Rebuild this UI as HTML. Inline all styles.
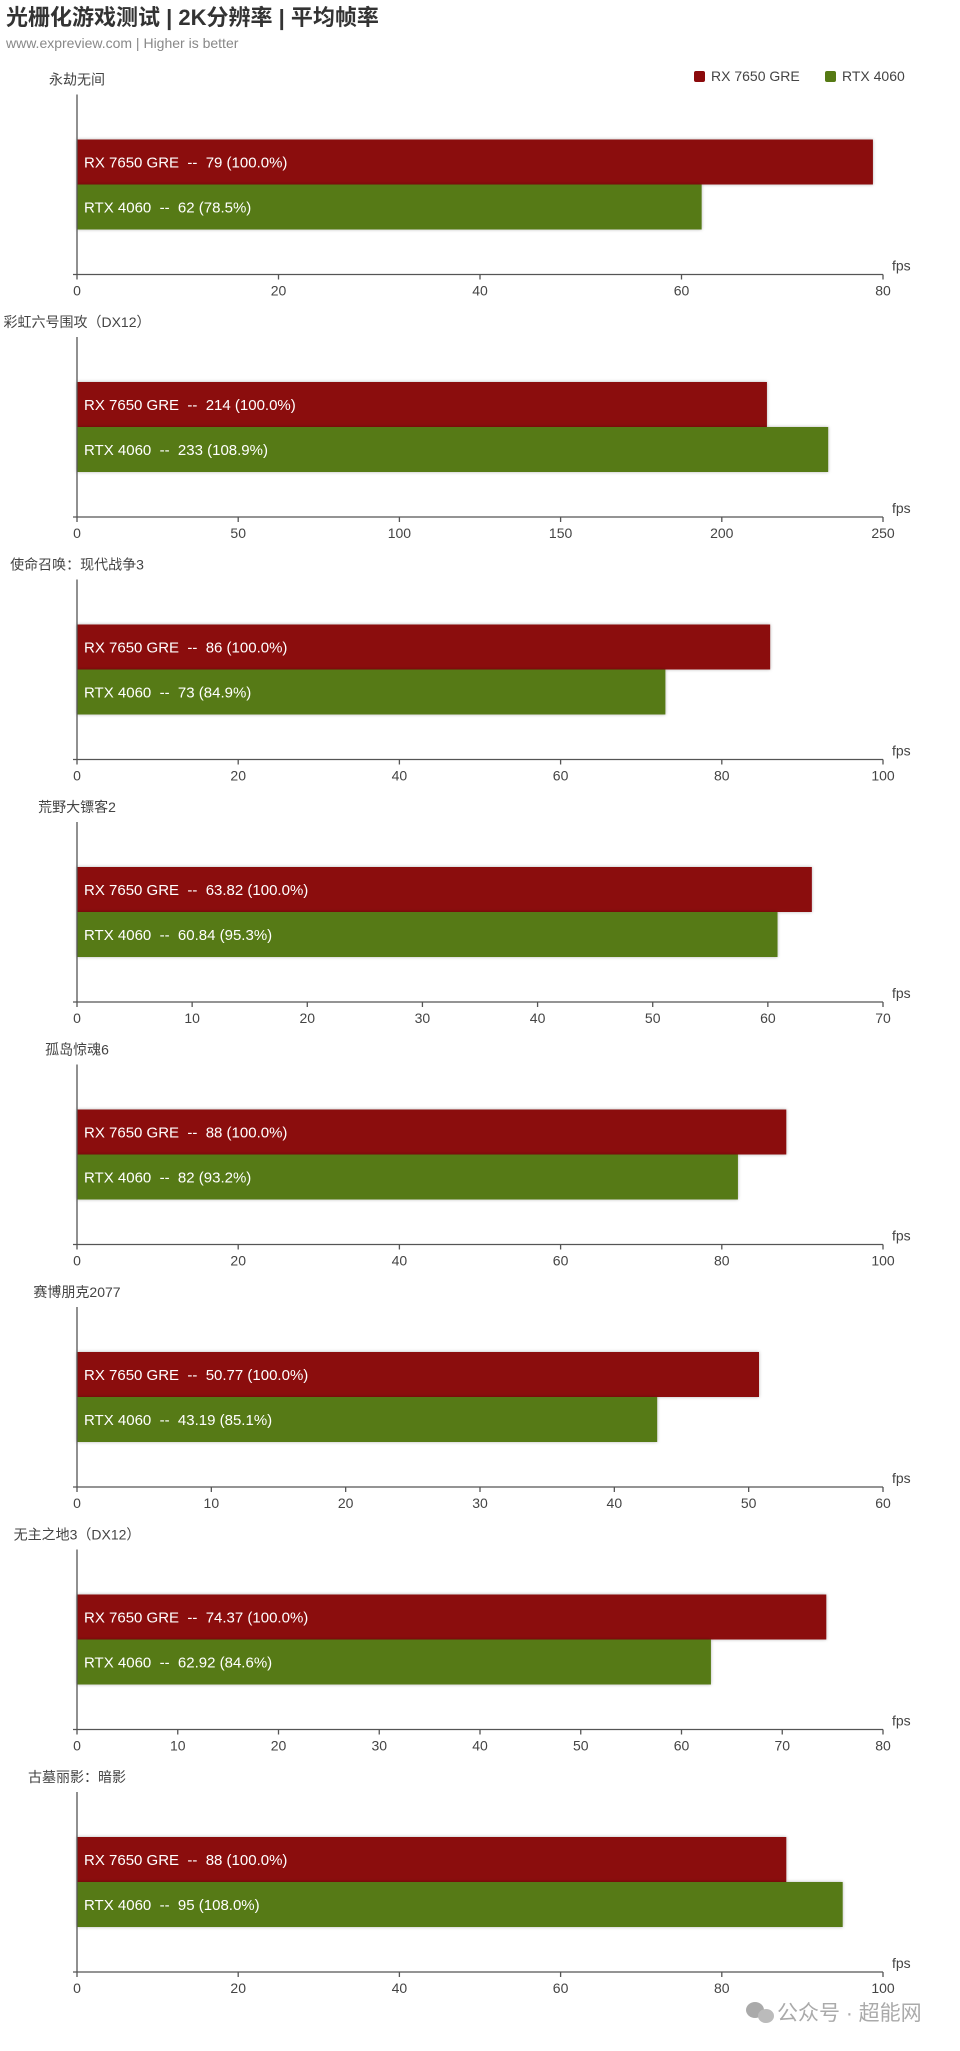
<!DOCTYPE html>
<html><head><meta charset="utf-8"><style>
body{margin:0;background:#fff;}
svg{display:block;font-family:"Liberation Sans","Noto Sans CJK SC",sans-serif;}
text{white-space:pre;}
</style></head><body>
<svg id="chart" width="960" height="2051" viewBox="0 0 960 2051" xmlns="http://www.w3.org/2000/svg">
<defs><filter id="sh" x="-5%" y="-20%" width="110%" height="140%"><feDropShadow dx="0" dy="0" stdDeviation="1.5" flood-color="#000" flood-opacity="0.3"/></filter></defs>
<text x="6" y="25" font-size="22" font-weight="bold" fill="#333">光栅化游戏测试 | 2K分辨率 | 平均帧率</text>
<text x="6" y="48" font-size="14" fill="#888">www.expreview.com | Higher is better</text>
<g>
<rect x="694" y="71" width="11" height="11" rx="2" fill="#8b0a0c"/>
<text x="711" y="81" font-size="14" fill="#444">RX 7650 GRE</text>
<rect x="825" y="71" width="11" height="11" rx="2" fill="#567a14"/>
<text x="842" y="81" font-size="14" fill="#444">RTX 4060</text>
</g>
<g id="panels"></g>
<g>
<ellipse cx="755" cy="2010" rx="9" ry="8" fill="#aaa"/>
<ellipse cx="766" cy="2016" rx="8" ry="7" fill="#bbb"/>
<text x="777" y="2020" font-size="21" fill="#aaa">公众号 · 超能网</text>
</g>
</svg>
<script>
const games = ["永劫无间","彩虹六号围攻（DX12）","使命召唤：现代战争3","荒野大镖客2","孤岛惊魂6","赛博朋克2077","无主之地3（DX12）","古墓丽影：暗影"];
const rxValues = [79, 214, 86, 63.82, 88, 50.77, 74.37, 88];
const rtxValues = [62, 233, 73, 60.84, 82, 43.19, 62.92, 95];
const rxPct = ["100.0%","100.0%","100.0%","100.0%","100.0%","100.0%","100.0%","100.0%"];
const rtxPct = ["78.5%","108.9%","84.9%","95.3%","93.2%","85.1%","84.6%","108.0%"];
const axisMax = [80, 250, 100, 70, 100, 60, 80, 100];
const tickStep = [20, 50, 20, 10, 20, 10, 10, 20];
const seriesNames = ["RX 7650 GRE","RTX 4060"];

const NS="http://www.w3.org/2000/svg";
const g=document.getElementById('panels');
const X0=77, X1=883;
function mk(t,a,p){const e=document.createElementNS(NS,t);for(const k in a)e.setAttribute(k,a[k]);(p||g).appendChild(e);return e;}
games.forEach((name,i)=>{
  const ay=274.5+i*242.5;
  const xs=v=>X0+(v/axisMax[i])*(X1-X0);
  const pg=mk('g',{});
  
  
  const t=mk('text',{x:77,y:ay-190,'font-size':14,fill:'#444','text-anchor':'middle'},pg);t.textContent=name;
  
  
  const vals=[rxValues[i],rtxValues[i]], pcts=[rxPct[i],rtxPct[i]], cols=['#8b0a0c','#567a14'], tops=[ay-135,ay-90];
  vals.forEach((v,j)=>{
    const r=mk('rect',{x:X0,y:tops[j],width:xs(v)-X0,height:45,fill:cols[j],filter:'url(#sh)'},pg);
    
    
    const l=mk('text',{x:84,y:tops[j]+28,'font-size':15,fill:'#fff'},pg);
    l.textContent=seriesNames[j]+'  --  '+v+' ('+pcts[j]+')';
    
    
  });
  const ya=mk('line',{x1:X0,y1:ay-180,x2:X0,y2:ay,stroke:'#555','stroke-width':1.3},pg);
  
  
  const xa=mk('line',{x1:X0-4,y1:ay,x2:X1,y2:ay,stroke:'#555','stroke-width':1.3},pg);
  
  
  for(let v=0;v<=axisMax[i];v+=tickStep[i]){
    mk('line',{x1:xs(v),y1:ay,x2:xs(v),y2:ay+5,stroke:'#555','stroke-width':1.3},pg);
    const tl=mk('text',{x:xs(v),y:ay+21,'font-size':14,fill:'#444','text-anchor':'middle'},pg);
    tl.textContent=v;
    
    
  }
  const f=mk('text',{x:892,y:ay-4,'font-size':14,fill:'#444'},pg);f.textContent='fps';
  
  
});
</script>
</body></html>
